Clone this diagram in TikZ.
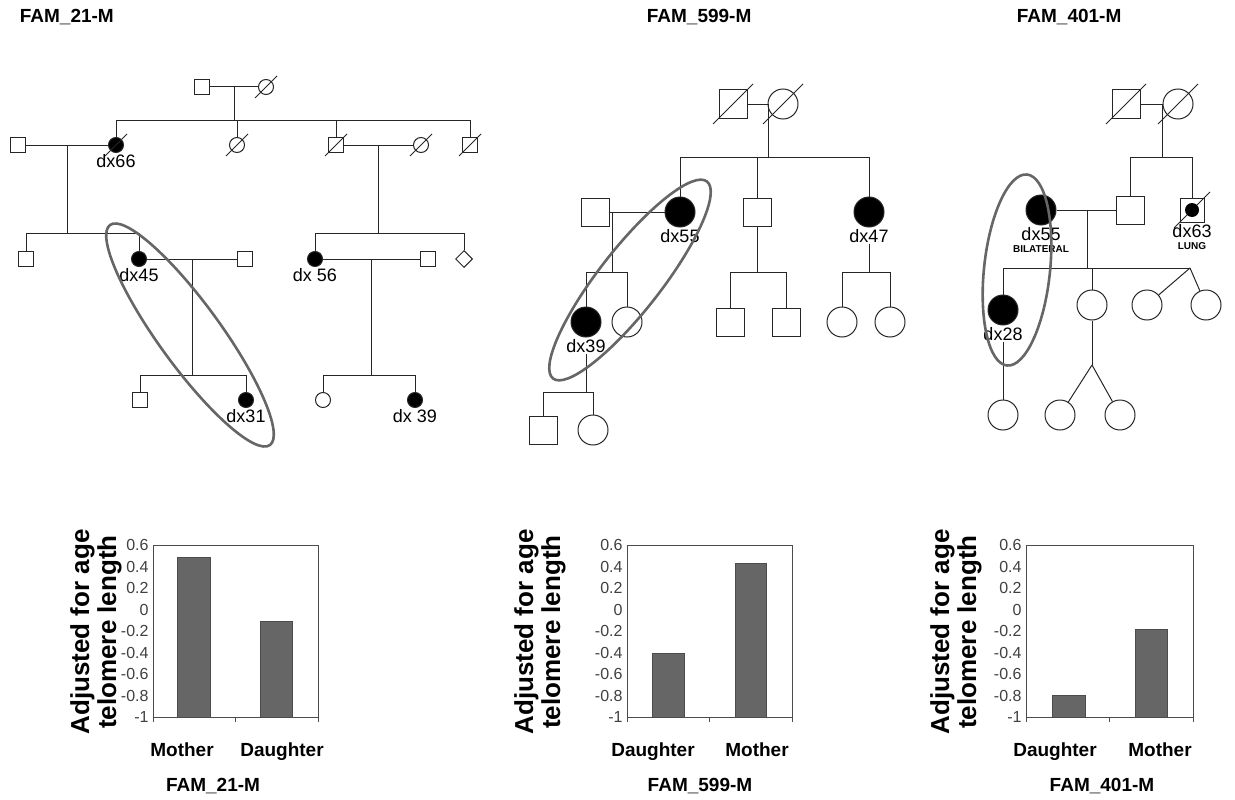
\documentclass[tikz,border=0pt]{standalone}
\usepackage{fontspec}
\setmainfont{Liberation Sans}
\usetikzlibrary{calc,shapes.geometric}
\tikzset{
    male/.style={draw,rectangle,minimum size=#1,inner sep=0},
    female/.style={draw,circle,minimum size=#1,inner sep=0},
    unknown/.style={draw,diamond,minimum size=#1,inner sep=0},
    affected/.style={fill=black},
    dx/.style={font=\fontsize{18}{19}\selectfont,inner sep=1pt},
    note/.style={font=\bfseries\fontsize{10}{11}\selectfont,inner sep=0pt},
    ring/.style={draw=black!60,line width=2.6pt,ellipse,inner sep=0},
    famtitle/.style={font=\bfseries\fontsize{19}{20}\selectfont},
    tick/.style={font=\fontsize{16}{16}\selectfont,text=black!75,inner sep=1pt},
    cat/.style={font=\bfseries\fontsize{19}{20}\selectfont,anchor=base},
    axlabel/.style={font=\bfseries\fontsize{26}{27}\selectfont,align=center},
    bar/.style={fill=black!60,draw=black!70},
  }
\newcommand\deceased[2]{\draw ($(#1)+(-#2,#2)$) -- ($(#1)+(#2,-#2)$);}
\begin{document}
\begin{tikzpicture}[x=1pt,y=-1pt,line width=1pt,draw=black!85]
\useasboundingbox (0,0) rectangle (1235,800);
%titles
\node[famtitle,anchor=west] (t21) at (16,17) {FAM\_21-M};
\node[famtitle,anchor=west] (t599) at (643,17) {FAM\_599-M};
\node[famtitle,anchor=west] (t401) at (1013,17) {FAM\_401-M};

%FAM_21-M
\node[male=15] (a1) at (202,87) {};
\node[female=15] (a2) at (266,87) {}; \deceased{a2}{11}
\draw (a1) -- (a2);
\coordinate (a12) at ($(a1)!.5!(a2)$);
\coordinate (a1s) at (0,120);
\draw (a12) -- (a12|-a1s);
\node[male=15] (b1) at (18,145) {};
\node[female=15,affected,label={[dx]below:dx66}] (b2) at (116,145) {}; \deceased{b2}{11}
\node[female=15] (b3) at (237,145) {}; \deceased{b3}{11}
\node[male=15] (b4) at (336,145) {}; \deceased{b4}{11}
\node[female=15] (b5) at (421,145) {}; \deceased{b5}{11}
\node[male=15] (b6) at (470,145) {}; \deceased{b6}{11}
\draw (b2|-a1s) -- (b6|-a1s);
\foreach \n in {b2,b3,b4,b6} \draw (\n) -- (\n|-a1s);
\draw (b1) -- (b2);
\draw (b4) -- (b5);
\coordinate (b12) at ($(b1)!.5!(b2)$);
\coordinate (b45) at ($(b4)!.5!(b5)$);
\coordinate (b1s) at (0,233);
\draw (b12) -- (b12|-b1s);
\draw (b45) -- (b45|-b1s);
\node[male=15] (c1) at (26,259) {};
\node[female=15,affected,label={[dx]below:dx45}] (c2) at (139,259) {};
\node[male=15] (c3) at (245,259) {};
\node[female=15,affected,label={[dx]below:dx 56}] (c4) at (315,259) {};
\node[male=15] (c5) at (428,259) {};
\node[unknown=17] (c6) at (464,259) {};
\draw (c1|-b1s) -- (c2|-b1s);
\draw (c4|-b1s) -- (c6|-b1s);
\foreach \n in {c1,c2,c4,c6} \draw (\n) -- (\n|-b1s);
\draw (c2) -- (c3);
\draw (c4) -- (c5);
\coordinate (c23) at ($(c2)!.5!(c3)$);
\coordinate (c45) at ($(c4)!.5!(c5)$);
\coordinate (c1s) at (0,375);
\draw (c23) -- (c23|-c1s);
\draw (c45) -- (c45|-c1s);
\node[male=15] (d1) at (140,400) {};
\node[female=15,affected,label={[dx]below:dx31}] (d2) at (246,400) {};
\node[female=15] (d3) at (323,400) {};
\node[female=15,affected,label={[dx]below:dx 39}] (d4) at (415,400) {};
\draw (d1|-c1s) -- (d2|-c1s);
\draw (d3|-c1s) -- (d4|-c1s);
\foreach \n in {d1,d2,d3,d4} \draw (\n) -- (\n|-c1s);
\node[ring,minimum width=272,minimum height=62,rotate=-54] (r21) at (190,335) {};

%FAM_599-M
\node[male=28] (e1) at (733,104) {}; \deceased{e1}{20}
\node[female=30] (e2) at (783,104) {}; \deceased{e2}{20}
\draw (e1) -- (e2);
\coordinate (e12) at ($(e1)!.7!(e2)$);
\coordinate (e1s) at (0,157);
\draw (e12) -- (e12|-e1s);
\node[male=28] (f1) at (595,212) {};
\node[female=30,affected,label={[dx,name=f2l]below:dx55}] (f2) at (680,212) {};
\node[male=28] (f3) at (757,212) {};
\node[female=30,affected,label={[dx,name=f4l]below:dx47}] (f4) at (869,212) {};
\draw (f2|-e1s) -- (f4|-e1s);
\foreach \n in {f2,f3,f4} \draw (\n) -- (\n|-e1s);
\draw (f1) -- (f2);
\coordinate (f12) at ($(f1)!.2!(f2)$);
\coordinate (f1s) at (0,272);
\draw (f12) -- (f12|-f1s);
\draw (f3) -- (f3|-f1s);
\draw (f4l) -- (f4|-f1s);
\node[female=30,affected,label={[dx,name=g1l]below:dx39}] (g1) at (586,322) {};
\node[female=30] (g2) at (627,322) {};
\node[male=28] (g3) at (730,322) {};
\node[male=28] (g4) at (786,322) {};
\node[female=30] (g5) at (842,322) {};
\node[female=30] (g6) at (890,322) {};
\draw (g1|-f1s) -- (g2|-f1s);
\draw (g3|-f1s) -- (g4|-f1s);
\draw (g5|-f1s) -- (g6|-f1s);
\foreach \n in {g1,g2,g3,g4,g5,g6} \draw (\n) -- (\n|-f1s);
\coordinate (g1s) at (0,392);
\draw (g1l) -- (g1|-g1s);
\node[male=28] (h1) at (543,430) {};
\node[female=30] (h2) at (593,430) {};
\draw (h1|-g1s) -- (h2|-g1s);
\foreach \n in {h1,h2} \draw (\n) -- (\n|-g1s);
\node[ring,minimum width=250,minimum height=62,rotate=52] (r599) at (630,280) {};

%FAM_401-M
\node[male=28] (i1) at (1126,104) {}; \deceased{i1}{20}
\node[female=30] (i2) at (1178,104) {}; \deceased{i2}{20}
\draw (i1) -- (i2);
\coordinate (i12) at ($(i1)!.7!(i2)$);
\coordinate (i1s) at (0,157);
\draw (i12) -- (i12|-i1s);
\node[male=28] (j1) at (1130,210) {};
\node[male=24,label={[dx,name=j2l]below:dx63}] (j2) at (1192,210) {}; \deceased{j2}{18}
\fill (j2) circle (7);
\node[note,anchor=north] (j2n) at ([yshift=-3pt]j2l.south) {LUNG};
\draw (j1|-i1s) -- (j2|-i1s);
\foreach \n in {j1,j2} \draw (\n) -- (\n|-i1s);
\node[female=30,affected,label={[dx,name=j3l]below:dx55}] (j3) at (1041,210) {};
\node[note,anchor=north] (j3n) at ([yshift=-3pt]j3l.south) {BILATERAL};
\draw (j3) -- (j1);
\coordinate (j31) at ($(j3)!.52!(j1)$);
\coordinate (j1s) at (0,268);
\draw (j31) -- (j31|-j1s);
\coordinate (tw) at (1190,268);
\node[female=30,affected,label={[dx,name=k1l]below:dx28}] (k1) at (1003,310) {};
\node[female=30] (k2) at (1092,305) {};
\node[female=30] (k3) at (1147,305) {};
\node[female=30] (k4) at (1206,305) {};
\draw (k1|-j1s) -- (tw);
\foreach \n in {k1,k2} \draw (\n) -- (\n|-j1s);
\draw (tw) -- (k3);
\draw (tw) -- (k4);
\coordinate (tw2) at (1092,365);
\node[female=30] (l1) at (1003,415) {};
\node[female=30] (l2) at (1060,415) {};
\node[female=30] (l3) at (1120,415) {};
\draw (k2) -- (tw2);
\draw (tw2) -- (l2);
\draw (tw2) -- (l3);
\draw (k1l) -- (l1);
\node[ring,minimum width=192,minimum height=66,rotate=84] (r401) at (1017,270) {};

%charts
\begin{scope}[shift={(153,0)}]
  \draw[line width=.8pt,black!70] (0,545) rectangle (165,717);
  \foreach \t [count=\i from 0] in {-1,-0.8,-0.6,-0.4,-0.2,0,0.2,0.4,0.6}
    \node[tick,anchor=east] (ya\i) at (-3,{717-\i*21.5}) {\t};
  \foreach \x in {0,82.5,165} \draw[line width=.8pt,black!70] (\x,717) -- (\x,722);
  \draw[bar] (24,717) rectangle (57,{717-1.48*107.5});
  \draw[bar] (107,717) rectangle (139,{717-0.89*107.5});
  \node[cat] (ca1) at (29,756) {Mother};
  \node[cat] (ca2) at (129,756) {Daughter};
  \node[cat] (ca3) at (60,791) {FAM\_21-M};
  \node[axlabel,rotate=90] (ya) at (-57,632) {Adjusted for age\\telomere length};
\end{scope}
\begin{scope}[shift={(627,0)}]
  \draw[line width=.8pt,black!70] (0,545) rectangle (165,717);
  \foreach \t [count=\i from 0] in {-1,-0.8,-0.6,-0.4,-0.2,0,0.2,0.4,0.6}
    \node[tick,anchor=east] (yb\i) at (-3,{717-\i*21.5}) {\t};
  \foreach \x in {0,82.5,165} \draw[line width=.8pt,black!70] (\x,717) -- (\x,722);
  \draw[bar] (25,717) rectangle (57,{717-0.59*107.5});
  \draw[bar] (108,717) rectangle (139,{717-1.43*107.5});
  \node[cat] (cb1) at (26,756) {Daughter};
  \node[cat] (cb2) at (130,756) {Mother};
  \node[cat] (cb3) at (73,791) {FAM\_599-M};
  \node[axlabel,rotate=90] (yb) at (-87,632) {Adjusted for age\\telomere length};
\end{scope}
\begin{scope}[shift={(1026,0)}]
  \draw[line width=.8pt,black!70] (0,545) rectangle (167,717);
  \foreach \t [count=\i from 0] in {-1,-0.8,-0.6,-0.4,-0.2,0,0.2,0.4,0.6}
    \node[tick,anchor=east] (yc\i) at (-3,{717-\i*21.5}) {\t};
  \foreach \x in {0,83.5,167} \draw[line width=.8pt,black!70] (\x,717) -- (\x,722);
  \draw[bar] (26,717) rectangle (59,{717-0.2*107.5});
  \draw[bar] (109,717) rectangle (141,{717-0.81*107.5});
  \node[cat] (cc1) at (29,756) {Daughter};
  \node[cat] (cc2) at (134,756) {Mother};
  \node[cat] (cc3) at (76,791) {FAM\_401-M};
  \node[axlabel,rotate=90] (yc) at (-70,632) {Adjusted for age\\telomere length};
\end{scope}
\end{tikzpicture}
\end{document}
